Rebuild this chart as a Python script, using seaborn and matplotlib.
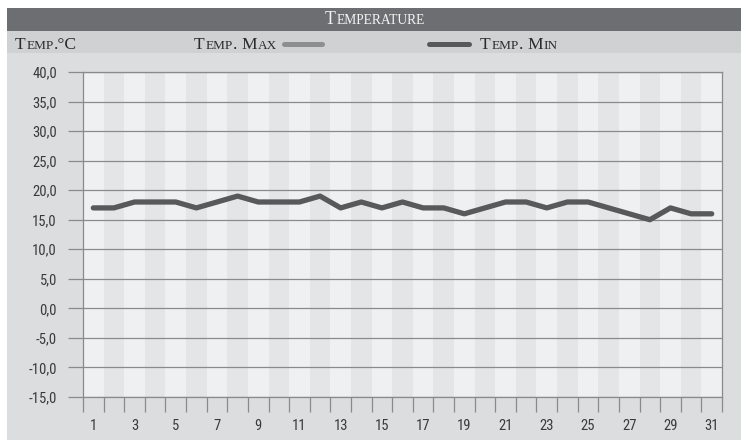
import matplotlib
matplotlib.use("Agg")
import matplotlib.pyplot as plt
import seaborn as sns
import pandas as pd
from matplotlib import font_manager
from matplotlib.font_manager import FontProperties
from matplotlib.transforms import IdentityTransform
from matplotlib.lines import Line2D
from matplotlib.patches import Rectangle

# ---------------- data ----------------
title = "Temperature"
y_unit_label = "Temp.°C"
series_names = ["Temp. Max", "Temp. Min"]
days = list(range(1, 32))
temp_min = [17, 17, 18, 18, 18, 17, 18, 19, 18, 18, 18, 19, 17, 18, 17, 18,
            17, 17, 16, 17, 18, 18, 17, 18, 18, 17, 16, 15, 17, 16, 16]
temp_max = []  # no values drawn in the reference
y_ticks = [-15, -10, -5, 0, 5, 10, 15, 20, 25, 30, 35, 40]
x_label_days = [d for d in days if d % 2 == 1]

# ---------------- style ----------------
sns.set_theme(style="white")


def pick(fams):
    for f in fams:
        try:
            font_manager.findfont(f, fallback_to_default=False)
            return f
        except Exception:
            pass
    return "DejaVu Sans"


def condensed_font(size):
    cands = [("Roboto Condensed", "normal"), ("Liberation Sans Narrow", "normal"),
             ("Roboto", "condensed"), ("Liberation Sans", "condensed"),
             ("DejaVu Sans", "condensed"), ("DejaVu Sans Condensed", "normal")]
    for fam, st in cands:
        try:
            p = font_manager.findfont(FontProperties(family=fam, stretch=st),
                                      fallback_to_default=False)
        except Exception:
            continue
        if "ondensed" in p or "Narrow" in p:
            return FontProperties(fname=p, size=size)
    return FontProperties(family=pick(["Roboto", "Liberation Sans"]), size=size)


SERIF = pick(["Liberation Serif", "DejaVu Serif"])
plt.rcParams["font.family"] = ["Roboto", "DejaVu Sans"]
TICK_FP = condensed_font(10.5)

W, H, DPI = 741, 440, 100
fig = plt.figure(figsize=(W / DPI, H / DPI), dpi=DPI, facecolor="white")
idt = IdentityTransform()

# background panels (pixel coords, origin bottom-left)
fig.add_artist(Rectangle((7, 0), W - 7, H - 8, transform=idt,
                         facecolor="#dcdddf", edgecolor="none", zorder=0))
fig.add_artist(Rectangle((7, H - 31), W - 7, 23, transform=idt,
                         facecolor="#6d6e71", edgecolor="none", zorder=0))
fig.add_artist(Rectangle((7, H - 53), W - 7, 22, transform=idt,
                         facecolor="#d0d1d3", edgecolor="none", zorder=0))

renderer = fig.canvas.get_renderer()


def smallcaps(x, y, text, size, color, ha="left", ratio=0.76):
    runs = []
    for ch in text:
        if ch == " ":
            runs.append((" ", None))
            continue
        small = ch.islower()
        if runs and runs[-1][1] == small:
            runs[-1] = (runs[-1][0] + ch, small)
        else:
            runs.append((ch, small))
    px_size = size * DPI / 72
    cur = x
    arts = []
    for s, small in runs:
        if small is None:
            cur += 0.2 * px_size
            continue
        fs = size * (ratio if small else 1.0)
        t = fig.text(cur, y, s.upper(), transform=idt, fontsize=fs,
                     family=[SERIF, "DejaVu Serif"], color=color,
                     ha="left", va="baseline", zorder=5)
        w = t.get_window_extent(renderer).width
        arts.append((t, cur))
        cur += w + 0.6
    total = cur - 0.6 - x
    if ha == "center":
        for t, px in arts:
            t.set_x(px - total / 2)
    return total


smallcaps(375, H - 23.7, title, 12.8, "#f3f3f3", ha="center")
smallcaps(15, H - 48.5, y_unit_label, 12.6, "#2b2b2b")
smallcaps(194, H - 48.5, series_names[0], 12.6, "#2b2b2b")
smallcaps(480, H - 48.5, series_names[1], 12.6, "#2b2b2b")

fig.add_artist(Line2D([284, 322], [H - 44, H - 44], transform=idt,
                      color="#8d8e90", lw=3.6, solid_capstyle="round", zorder=5))
fig.add_artist(Line2D([429, 469], [H - 44, H - 44], transform=idt,
                      color="#58595b", lw=3.6, solid_capstyle="round", zorder=5))

# ---------------- axes ----------------
L, R, T, B = 83, 722, 72, 397
ax = fig.add_axes([L / W, 1 - B / H, (R - L) / W, (B - T) / H])
ax.set_facecolor("#eff0f2")
for d in days:
    if d % 2 == 0:
        ax.axvspan(d - 0.5, d + 0.5, color="#e4e5e7", lw=0, zorder=0.1)

df = pd.DataFrame({"day": days, "temp_min": temp_min})
sns.lineplot(data=df, x="day", y="temp_min", ax=ax, color="#58595b",
             lw=3.8, zorder=3, solid_capstyle="round", solid_joinstyle="round")

ax.set_xlim(days[0] - 0.5, days[-1] + 0.5)
ax.set_ylim(y_ticks[0], y_ticks[-1])
ax.set_xlabel("")
ax.set_ylabel("")

grid_c = "#8a8a8a"
ax.set_yticks(y_ticks)
ax.set_yticklabels([f"{v:.1f}".replace(".", ",") for v in y_ticks])
ax.yaxis.grid(True, color=grid_c, lw=0.9, zorder=0.5)
ax.xaxis.grid(False)
ax.set_axisbelow(True)

ax.set_xticks([d - 0.5 for d in days] + [days[-1] + 0.5])
ax.set_xticklabels([])
ax.set_xticks(x_label_days, minor=True)
ax.set_xticklabels([str(d) for d in x_label_days], minor=True)

ax.tick_params(axis="y", which="major", left=True, length=10.8, width=0.9,
               color=grid_c, pad=8, labelcolor="#3a3a3a")
ax.tick_params(axis="x", which="major", bottom=True, length=10.8, width=0.9,
               color=grid_c, direction="out")
ax.tick_params(axis="x", which="minor", bottom=True, length=0, pad=15.5,
               labelcolor="#3a3a3a")
for lbl in ax.get_yticklabels() + ax.get_xticklabels(minor=True):
    lbl.set_fontproperties(TICK_FP)

for sp in ax.spines.values():
    sp.set_visible(True)
    sp.set_color(grid_c)
    sp.set_linewidth(0.9)

fig.savefig("out.png", dpi=DPI, facecolor="white")
